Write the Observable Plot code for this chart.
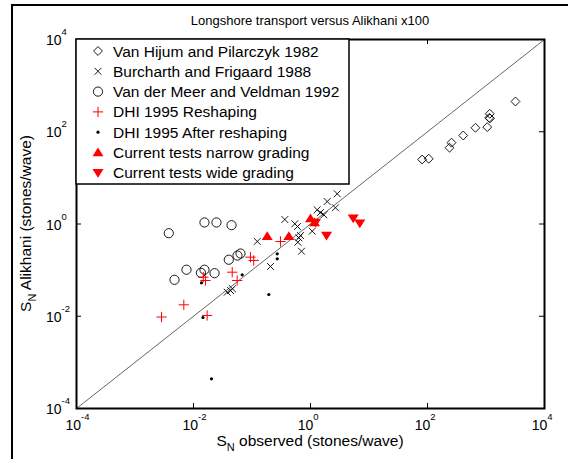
<!DOCTYPE html>
<html>
<head>
<meta charset="utf-8">
<script src="https://cdn.jsdelivr.net/npm/d3@7"></script>
<script src="https://cdn.jsdelivr.net/npm/@observablehq/plot@0.6"></script>
<style>
  body { margin: 0; background: #fff; }
  #fig { position: relative; width: 568px; height: 459px; overflow: hidden; background: #fff; }
  #fig .edge { position: absolute; left: 11px; top: 4px; width: 700px; height: 600px;
               border-left: 2px solid #000; border-top: 2px solid #000; }
  #fig svg { position: absolute; left: 0; top: 0; }
</style>
</head>
<body>
<div id="fig"><div class="edge"></div></div>
<script>
// ---- data (S_N observed, S_N Alikhani x100) ----
const vanHijumX = [81, 105, 238, 257, 408, 660, 1050, 1135, 1160, 1170, 3190];
const vanHijumY = [25, 26, 45, 58, 83, 122, 126, 200, 245, 195, 453];

const burcharthX = [2.86, 1.93, 2.67, 1.30, 1.48, 1.69, 0.364, 0.539, 0.600, 1.07, 0.675, 0.631, 0.607, 0.702, 0.123, 0.207, 0.0377, 0.0429, 0.0464];
const burcharthY = [4.52, 3.07, 2.25, 2.03, 1.77, 1.58, 1.25, 1.01, 0.883, 0.698, 0.563, 0.502, 0.403, 0.257, 0.418, 0.120, 0.0332, 0.0361, 0.0394];

const vanDerMeerX = [0.00378, 0.0154, 0.0247, 0.0447, 0.0565, 0.0636, 0.0401, 0.00759, 0.00473, 0.0134, 0.0154, 0.0229];
const vanDerMeerY = [0.632, 1.08, 1.08, 0.942, 0.207, 0.229, 0.168, 0.102, 0.0617, 0.0875, 0.102, 0.0858];

const dhiReshapeX = [0.00284, 0.00683, 0.0171, 0.0147, 0.0160, 0.0459, 0.0558, 0.0942, 0.107, 0.307];
const dhiReshapeY = [0.00963, 0.0177, 0.0104, 0.0703, 0.0596, 0.0902, 0.0596, 0.191, 0.162, 0.418];

const dhiAfterX = [0.0137, 0.0145, 0.0203, 0.0680, 0.270, 0.270, 0.194];
const dhiAfterY = [0.0531, 0.0094, 0.00044, 0.0792, 0.226, 0.176, 0.0296];

const narrowX = [0.182, 0.426, 1.00, 1.17];
const narrowY = [0.544, 0.544, 1.32, 1.08];

const wideX = [1.22, 1.88, 5.37, 6.96];
const wideY = [1.08, 0.563, 1.34, 1.04];

const diagonal = [1e-4, 1e4];
const decades = [1e-4, 1e-2, 1, 1e2, 1e4];
const tickExponents = ["-4", "-2", "0", "2", "4"];

const titleText = "Longshore transport versus Alikhani x100";
const seriesNames = [
  "Van Hijum and Pilarczyk 1982",
  "Burcharth and Frigaard 1988",
  "Van der Meer and Veldman 1992",
  "DHI 1995 Reshaping",
  "DHI 1995 After reshaping",
  "Current tests narrow grading",
  "Current tests wide grading"
];

// ---- helpers ----
const pairs = (xs, ys) => xs.map((x, i) => ({x, y: ys[i]}));

// filled triangles pointing up / down
const triangleUp = {
  draw(ctx, size) {
    const r = Math.sqrt(size / Math.PI);
    ctx.moveTo(0, -r); ctx.lineTo(r * 1.1, r * 0.75); ctx.lineTo(-r * 1.1, r * 0.75); ctx.closePath();
  }
};
const triangleDown = {
  draw(ctx, size) {
    const r = Math.sqrt(size / Math.PI);
    ctx.moveTo(0, r); ctx.lineTo(r * 1.1, -r * 0.75); ctx.lineTo(-r * 1.1, -r * 0.75); ctx.closePath();
  }
};

const styles = [
  {symbol: "diamond2", r: 4, stroke: "#000", fill: "none", strokeWidth: 0.9},
  {symbol: "times", r: 3.2, stroke: "#000", fill: "none", strokeWidth: 0.9},
  {symbol: "circle", r: 4.6, stroke: "#000", fill: "none", strokeWidth: 0.9},
  {symbol: "plus", r: 3.4, stroke: "#f00", fill: "none", strokeWidth: 1},
  {symbol: "circle", r: 1.6, stroke: "none", fill: "#000"},
  {symbol: triangleUp, r: 5, stroke: "none", fill: "#f00"},
  {symbol: triangleDown, r: 5, stroke: "none", fill: "#f00"}
];
const series = [
  pairs(vanHijumX, vanHijumY),
  pairs(burcharthX, burcharthY),
  pairs(vanDerMeerX, vanDerMeerY),
  pairs(dhiReshapeX, dhiReshapeY),
  pairs(dhiAfterX, dhiAfterY),
  pairs(narrowX, narrowY),
  pairs(wideX, wideY)
];

// ---- layout ----
const W = 568, H = 459;
const mL = 76, mR = 24, mT = 39, mB = 51;
const plotW = W - mL - mR, plotH = H - mT - mB;
const tickLen = 5;
const font = "'Liberation Sans', Arial, Helvetica, sans-serif";

const marks = [
  Plot.line(diagonal, {x: d => d, y: d => d, stroke: "#555", strokeWidth: 0.9}),
  // inward ticks on all four sides
  Plot.tickX(decades, {x: d => d, insetTop: plotH - tickLen, stroke: "#000"}),
  Plot.tickX(decades, {x: d => d, insetBottom: plotH - tickLen, stroke: "#000"}),
  Plot.tickY(decades, {y: d => d, insetRight: plotW - tickLen, stroke: "#000"}),
  Plot.tickY(decades, {y: d => d, insetLeft: plotW - tickLen, stroke: "#000"}),
  Plot.frame({stroke: "#000", strokeWidth: 2})
];

// tick labels "10" with a raised exponent
decades.forEach((d, i) => {
  const e = tickExponents[i];
  const half = e.startsWith("-") ? 4.5 : 2.8;
  marks.push(
    Plot.text([d], {x: v => v, frameAnchor: "bottom", text: () => "10", textAnchor: "end",
      lineAnchor: "bottom", dx: half, dy: 21, fontSize: 14}),
    Plot.text([d], {x: v => v, frameAnchor: "bottom", text: () => e, textAnchor: "start",
      lineAnchor: "bottom", dx: half, dy: 11, fontSize: 9.5}),
    Plot.text([d], {y: v => v, frameAnchor: "left", text: () => "10", textAnchor: "end",
      lineAnchor: "bottom", dx: -15, dy: 5.5, fontSize: 14}),
    Plot.text([d], {y: v => v, frameAnchor: "left", text: () => e, textAnchor: "start",
      lineAnchor: "bottom", dx: -15, dy: -4.5, fontSize: 9.5})
  );
});

// one dot mark per series, each with its own symbol
series.forEach((data, i) => {
  const s = styles[i];
  marks.push(Plot.dot(data, {x: "x", y: "y", symbol: s.symbol, r: s.r,
    stroke: s.stroke, fill: s.fill, strokeWidth: s.strokeWidth}));
});

const svgNode = Plot.plot({
  width: W, height: H,
  marginLeft: mL, marginRight: mR, marginTop: mT, marginBottom: mB,
  x: {type: "log", domain: [1e-4, 1e4], axis: null},
  y: {type: "log", domain: [1e-4, 1e4], axis: null},
  style: {fontFamily: font, background: "transparent", color: "#000"},
  marks
});
document.getElementById("fig").appendChild(svgNode);

// ---- title, axis labels and legend ----
const svg = d3.select(svgNode);
const cx = mL + plotW / 2;

svg.append("text").attr("x", cx).attr("y", 25).attr("text-anchor", "middle")
  .attr("font-size", 13).attr("font-family", font).attr("fill", "#000").text(titleText);

const xl = svg.append("text").attr("x", cx).attr("y", 446).attr("text-anchor", "middle")
  .attr("font-size", 15.5).attr("font-family", font).attr("fill", "#000");
xl.append("tspan").text("S");
xl.append("tspan").attr("font-size", 11).attr("dy", 5).text("N");
xl.append("tspan").attr("dy", -5).text(" observed (stones/wave)");

const yl = svg.append("text").attr("transform", `translate(31,${mT + plotH / 2}) rotate(-90)`)
  .attr("text-anchor", "middle").attr("font-size", 15.5).attr("font-family", font).attr("fill", "#000");
yl.append("tspan").text("S");
yl.append("tspan").attr("font-size", 11).attr("dy", 5).text("N");
yl.append("tspan").attr("dy", -5).text(" Alikhani (stones/wave)");

const lg = svg.append("g").attr("text-anchor", "start");
lg.append("rect").attr("x", mL).attr("y", mT).attr("width", 273).attr("height", 145)
  .attr("fill", "#fff").attr("stroke", "#000").attr("stroke-width", 1.5);

const symMap = {diamond2: d3.symbolDiamond2, times: d3.symbolTimes, circle: d3.symbolCircle, plus: d3.symbolPlus};
seriesNames.forEach((name, i) => {
  const s = styles[i];
  const cy = 51 + i * 20.3;
  const type = typeof s.symbol === "string" ? symMap[s.symbol] : s.symbol;
  lg.append("path")
    .attr("transform", `translate(98,${cy})`)
    .attr("d", d3.symbol(type, Math.PI * s.r * s.r)())
    .attr("fill", s.fill).attr("stroke", s.stroke).attr("stroke-width", s.strokeWidth || null);
  lg.append("text").attr("x", 113).attr("y", cy + 5.5).attr("text-anchor", "start")
    .attr("font-size", 15.5).attr("font-family", font).attr("fill", "#000").text(name);
});
</script>
</body>
</html>
